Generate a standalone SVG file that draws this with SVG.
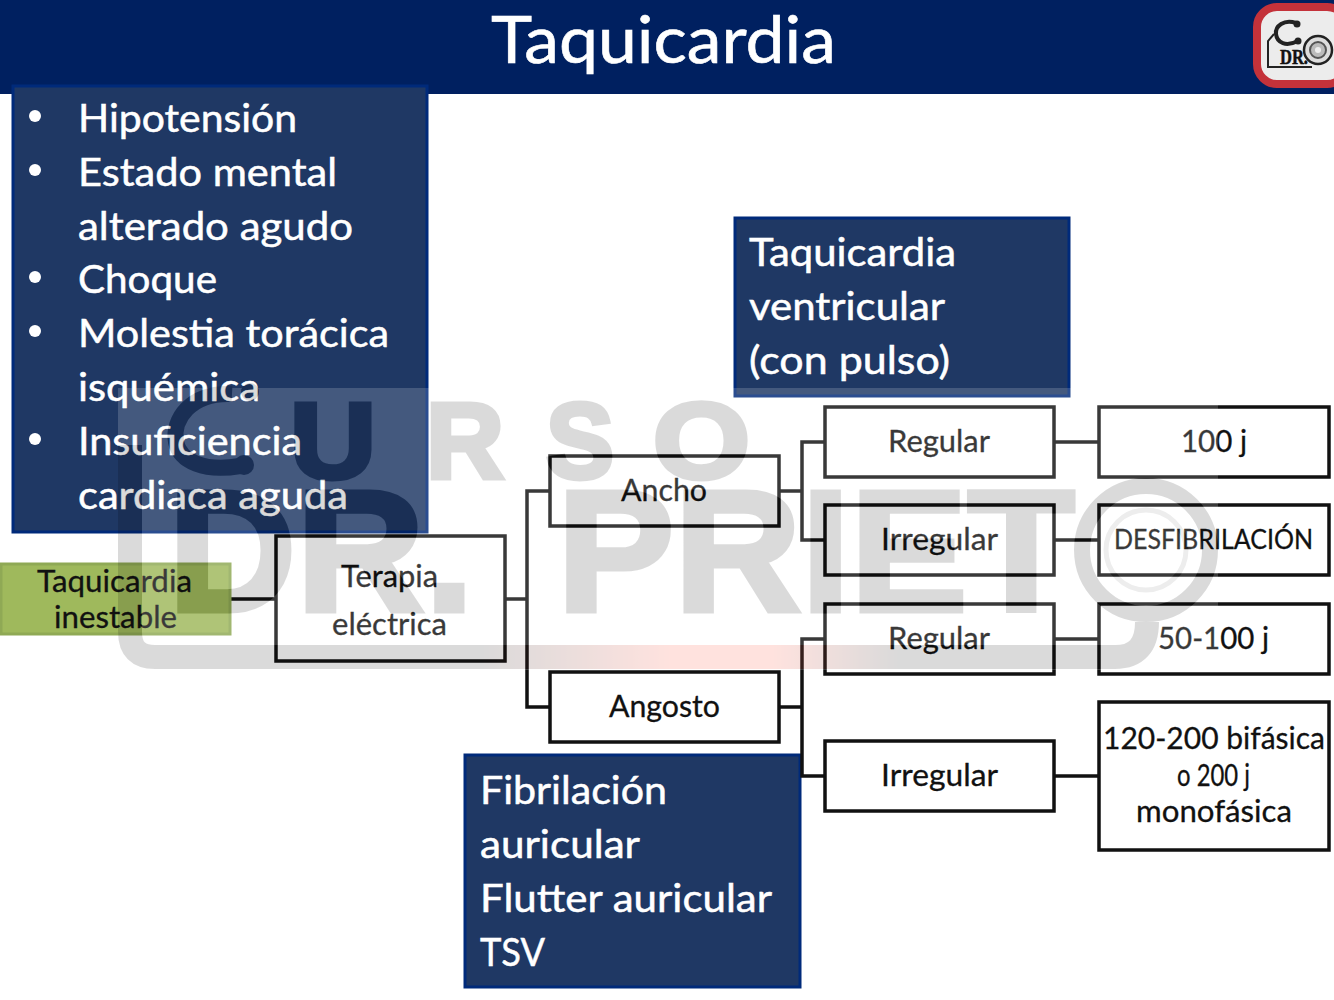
<svg xmlns="http://www.w3.org/2000/svg" xmlns:xlink="http://www.w3.org/1999/xlink" width="1334" height="1000" viewBox="0 0 1334 1000">
<style>
text{font-family:"Lato","Carlito","Liberation Sans",sans-serif}
.w{fill:#fff;font-size:39px;stroke:#fff;stroke-width:.5px}
.k{fill:#111;font-size:31px;stroke:#111;stroke-width:.3px}
.blue{fill:#1f3864;stroke:#002a7a;stroke-width:3}
.box{fill:#fff;stroke:#111;stroke-width:3.5}
.c{fill:none;stroke:#111;stroke-width:3.5}
.wm text{font-family:"Liberation Sans",sans-serif;font-weight:bold;stroke:#000;stroke-width:5px}
</style>
<defs>
<linearGradient id="pink" gradientUnits="userSpaceOnUse" x1="480" y1="0" x2="900" y2="0">
<stop offset="0" stop-color="#000"/>
<stop offset=".45" stop-color="#ff3a20"/>
<stop offset=".7" stop-color="#ff3a20"/>
<stop offset="1" stop-color="#000"/>
</linearGradient>
<mask id="lm" maskUnits="userSpaceOnUse" x="0" y="0" width="1334" height="1000">
<rect x="0" y="0" width="1334" height="1000" fill="#fff"/>
<use href="#wmshapes"/>
</mask>
</defs>
<rect width="1334" height="1000" fill="#fff"/>
<g id="header">
<rect x="0" y="0" width="1334" height="94" fill="#002060"/>
<text x="491" y="63" fill="#fff" stroke="#fff" stroke-width=".6" font-size="65" textLength="345" lengthAdjust="spacingAndGlyphs">Taquicardia</text>
</g>
<g id="logo">
<rect x="1257" y="7" width="90" height="77" rx="20" fill="#ececec" stroke="#c4323a" stroke-width="8"/>
<path d="M1274 34 L1268 41 V67 H1312" fill="none" stroke="#222" stroke-width="2"/>
<path d="M1296 23 C1284 19 1275 26 1276 34 C1277 43 1286 47 1298 41" fill="none" stroke="#222" stroke-width="4"/>
<circle cx="1297" cy="24" r="3.5" fill="#222"/>
<circle cx="1298" cy="41" r="3.5" fill="#222"/>
<text x="1280" y="64" font-size="21" font-weight="bold" fill="#111" stroke="#111" stroke-width=".5" style="font-family:'Liberation Serif',serif" textLength="28" lengthAdjust="spacingAndGlyphs">DR.</text>
<circle cx="1318" cy="50" r="14" fill="#ddd" stroke="#222" stroke-width="2.5"/>
<circle cx="1318" cy="50" r="8" fill="#bbb" stroke="#555" stroke-width="2"/>
<circle cx="1318" cy="50" r="3" fill="#eee"/>
</g>
<g id="signs">
<rect class="blue" x="13" y="86" width="414" height="446"/>
<circle cx="35" cy="116" r="6" fill="#fff"/>
<circle cx="35" cy="170" r="6" fill="#fff"/>
<circle cx="35" cy="277" r="6" fill="#fff"/>
<circle cx="35" cy="331" r="6" fill="#fff"/>
<circle cx="35" cy="439" r="6" fill="#fff"/>
<text class="w" x="78" y="132" textLength="219" lengthAdjust="spacingAndGlyphs">Hipotensión</text>
<text class="w" x="78" y="186" textLength="259" lengthAdjust="spacingAndGlyphs">Estado mental</text>
<text class="w" x="78" y="240" textLength="275" lengthAdjust="spacingAndGlyphs">alterado agudo</text>
<text class="w" x="78" y="293" textLength="139" lengthAdjust="spacingAndGlyphs">Choque</text>
<text class="w" x="78" y="347" textLength="311" lengthAdjust="spacingAndGlyphs">Molestia torácica</text>
<text class="w" x="78" y="401" textLength="182" lengthAdjust="spacingAndGlyphs">isquémica</text>
<text class="w" x="78" y="455" textLength="224" lengthAdjust="spacingAndGlyphs">Insuficiencia</text>
<text class="w" x="78" y="509" textLength="270" lengthAdjust="spacingAndGlyphs">cardiaca aguda</text>
</g>
<g id="tv">
<rect class="blue" x="735" y="218" width="334" height="178"/>
<text class="w" x="749" y="266" textLength="207" lengthAdjust="spacingAndGlyphs">Taquicardia</text>
<text class="w" x="749" y="320" textLength="196" lengthAdjust="spacingAndGlyphs">ventricular</text>
<text class="w" x="749" y="374" textLength="201" lengthAdjust="spacingAndGlyphs">(con pulso)</text>
</g>
<g id="fa">
<rect class="blue" x="465" y="755" width="335" height="232"/>
<text class="w" x="480" y="804" textLength="187" lengthAdjust="spacingAndGlyphs">Fibrilación</text>
<text class="w" x="480" y="858" textLength="160" lengthAdjust="spacingAndGlyphs">auricular</text>
<text class="w" x="480" y="912" textLength="292" lengthAdjust="spacingAndGlyphs">Flutter auricular</text>
<text class="w" x="480" y="966" textLength="65" lengthAdjust="spacingAndGlyphs">TSV</text>
</g>
<g id="connectors">
<path class="c" d="M231 599H276M505 599H527M550 491H527V707H550M779 491H802M825 442H802V540H825M779 707H802M825 639H802V776H825M1054 442H1099M1054 540H1099M1054 639H1099M1054 776H1099"/>
</g>
<g id="inestable">
<rect x="1" y="564" width="229" height="70" fill="#9fb95c" stroke="#8fa955" stroke-width="3"/>
<text class="k" x="37" y="592" textLength="155" lengthAdjust="spacingAndGlyphs">Taquicardia</text>
<text class="k" x="54" y="628" textLength="123" lengthAdjust="spacingAndGlyphs">inestable</text>
</g>
<g id="terapia">
<rect class="box" x="276" y="536" width="229" height="125"/>
<text class="k" x="341" y="587" textLength="97" lengthAdjust="spacingAndGlyphs">Terapia</text>
<text class="k" x="332" y="635" textLength="115" lengthAdjust="spacingAndGlyphs">eléctrica</text>
</g>
<g id="ancho">
<rect class="box" x="550" y="456" width="229" height="70"/>
<text class="k" x="621" y="501" textLength="86" lengthAdjust="spacingAndGlyphs">Ancho</text>
</g>
<g id="angosto">
<rect class="box" x="550" y="672" width="229" height="70"/>
<text class="k" x="609" y="717" textLength="111" lengthAdjust="spacingAndGlyphs">Angosto</text>
</g>
<g id="regular1">
<rect class="box" x="825" y="407" width="229" height="70"/>
<text class="k" x="888" y="452" textLength="102" lengthAdjust="spacingAndGlyphs">Regular</text>
</g>
<g id="irregular1">
<rect class="box" x="825" y="505" width="229" height="70"/>
<text class="k" x="881" y="550" textLength="117" lengthAdjust="spacingAndGlyphs">Irregular</text>
</g>
<g id="regular2">
<rect class="box" x="825" y="604" width="229" height="70"/>
<text class="k" x="888" y="649" textLength="102" lengthAdjust="spacingAndGlyphs">Regular</text>
</g>
<g id="irregular2">
<rect class="box" x="825" y="741" width="229" height="70"/>
<text class="k" x="881" y="786" textLength="117" lengthAdjust="spacingAndGlyphs">Irregular</text>
</g>
<g id="r100">
<rect class="box" x="1099" y="407" width="230" height="70"/>
<text class="k" x="1181" y="452" textLength="66" lengthAdjust="spacingAndGlyphs">100 j</text>
</g>
<g id="desf">
<rect class="box" x="1099" y="505" width="230" height="70"/>
<text class="k" x="1114" y="549" style="font-size:27px" textLength="199" lengthAdjust="spacingAndGlyphs">DESFIBRILACIÓN</text>
</g>
<g id="r50">
<rect class="box" x="1099" y="604" width="230" height="70"/>
<text class="k" x="1158" y="649" textLength="111" lengthAdjust="spacingAndGlyphs">50-100 j</text>
</g>
<g id="r120">
<rect class="box" x="1099" y="702" width="230" height="148"/>
<text class="k" x="1103" y="749" textLength="222" lengthAdjust="spacingAndGlyphs">120-200 bifásica</text>
<text class="k" x="1177" y="786" textLength="73" lengthAdjust="spacingAndGlyphs">o 200 j</text>
<text class="k" x="1136" y="822" textLength="156" lengthAdjust="spacingAndGlyphs">monofásica</text>
</g>
<g id="watermark">
<rect x="118" y="388" width="1100" height="282" fill="#fff" fill-opacity=".17" mask="url(#lm)"/>
<g opacity=".14">
<g id="wmshapes" class="wm" fill="#000">
<path d="M130 445V632Q130 657 155 657H1115Q1147 657 1147 622" fill="none" stroke="url(#pink)" stroke-width="24"/>
<path d="M232 394C190 392 172 420 176 442C180 462 205 472 240 466" fill="none" stroke="#000" stroke-width="16"/>
<circle cx="250" cy="392" r="9"/>
<circle cx="244" cy="465" r="10"/>
<circle cx="1146" cy="550" r="64" fill="none" stroke="#000" stroke-width="16"/>
<circle cx="1146" cy="550" r="40" fill="none" stroke="#000" stroke-width="5" stroke-opacity=".5"/>
<text x="290" y="478" font-size="108" textLength="86" lengthAdjust="spacingAndGlyphs">U</text>
<text x="426" y="478" font-size="108" textLength="78" lengthAdjust="spacingAndGlyphs">R</text>
<text x="546" y="478" font-size="108" textLength="68" lengthAdjust="spacingAndGlyphs">S</text>
<text x="653" y="478" font-size="108" textLength="97" lengthAdjust="spacingAndGlyphs">O</text>
<text x="168" y="611" font-size="172" textLength="306" lengthAdjust="spacingAndGlyphs">DR.</text>
<text x="557" y="611" font-size="172" textLength="518" lengthAdjust="spacingAndGlyphs">PRIET</text>
</g>
</g>
</g>
</svg>
